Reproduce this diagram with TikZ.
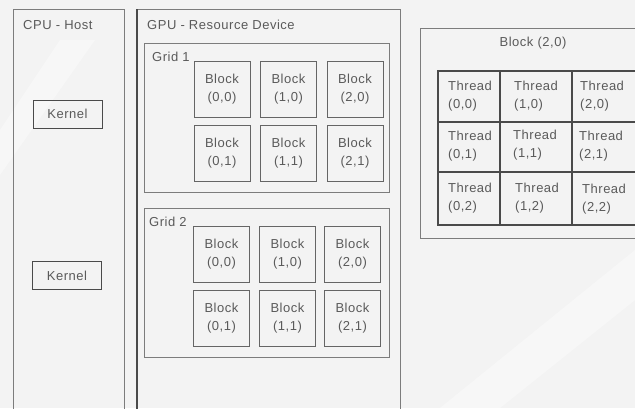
\documentclass[tikz,border=0pt]{standalone}
\usepackage{fontspec}
\setmainfont{Liberation Sans}[LetterSpace=4]
\definecolor{bg}{HTML}{F3F3F3}
\definecolor{txt}{HTML}{5A5A5A}
\definecolor{ln}{HTML}{7C7C7C}
\definecolor{dk}{HTML}{4A4A4A}
\tikzset{
  lbl/.style={text=txt, font=\fontsize{13}{18}\selectfont, inner sep=0pt, anchor=west},
  container/.style={draw=ln, line width=0.9pt},
  blockbox/.style={draw=dk!85, line width=0.9pt, minimum width=56pt, minimum height=56pt, inner sep=0pt,
     align=center, text=txt, font=\fontsize{13}{18}\selectfont},
  kernelbox/.style={draw=dk, line width=0.9pt, minimum width=69pt, minimum height=28pt, inner sep=0pt,
     text=txt, font=\fontsize{13}{18}\selectfont},
  cellbox/.style={draw=dk, line width=1.1pt, inner sep=0pt},
  celltext/.style={text=txt, font=\fontsize{13}{18}\selectfont, inner sep=0pt, anchor=west, align=left}
}
\begin{document}
\begin{tikzpicture}[x=1pt,y=-1pt]
\useasboundingbox (0,0) rectangle (635,408);
\clip (0,0) rectangle (635,408);
\fill[bg] (0,0) rectangle (635,408);
% faint watermark streaks
\fill[white, opacity=0.35] (0,130) -- (60,40) -- (95,40) -- (0,175) -- cycle;
\fill[white, opacity=0.35] (440,408) -- (635,250) -- (635,300) -- (500,408) -- cycle;

% CPU host
\draw[container] (13,420) -- (13,9) -- (124,9) -- (124,420);
\node[lbl] (cpu) at (23,25) {CPU - Host};
\node[kernelbox] (k1) at (67.5,114) {Kernel};
\node[kernelbox] (k2) at (67,275.5) {Kernel};

% GPU device
\draw[container] (137,420) -- (137,9) -- (400,9) -- (400,420);
\draw[dk, line width=1.1pt] (137,9) -- (137,420);
\node[lbl] (gpu) at (147,25) {GPU - Resource Device};

% Grid 1
\draw[container] (144,43) rectangle (389,192);
\node[lbl] (g1) at (152,57) {Grid 1};
\node[blockbox] (a00) at (222,89) {Block\\(0,0)};
\node[blockbox] (a10) at (288.5,89) {Block\\(1,0)};
\node[blockbox] (a20) at (355,89) {Block\\(2,0)};
\node[blockbox] (a01) at (222,153.5) {Block\\(0,1)};
\node[blockbox] (a11) at (288.5,153.5) {Block\\(1,1)};
\node[blockbox] (a21) at (355,153.5) {Block\\(2,1)};

% Grid 2
\draw[container] (144,208) rectangle (389,357);
\node[lbl] (g2) at (149,222) {Grid 2};
\node[blockbox] (b00) at (221.5,254) {Block\\(0,0)};
\node[blockbox] (b10) at (287.5,254) {Block\\(1,0)};
\node[blockbox] (b20) at (352.5,254) {Block\\(2,0)};
\node[blockbox] (b01) at (221.5,318.5) {Block\\(0,1)};
\node[blockbox] (b11) at (287.5,318.5) {Block\\(1,1)};
\node[blockbox] (b21) at (352.5,318.5) {Block\\(2,1)};

% Block (2,0) detail
\draw[container] (420,28) rectangle (660,238);
\node[text=txt, font=\fontsize{13}{18}\selectfont, inner sep=0pt] (bt) at (533,43) {Block (2,0)};

% thread cells
\node[cellbox, minimum width=62pt, minimum height=51pt] (c00) at (469,96.5) {};
\node[cellbox, minimum width=72pt, minimum height=51pt] (c10) at (536,96.5) {};
\node[cellbox, minimum width=64pt, minimum height=51pt] (c20) at (604,96.5) {};
\node[cellbox, minimum width=62pt, minimum height=50pt] (c01) at (469,147) {};
\node[cellbox, minimum width=72pt, minimum height=50pt] (c11) at (536,147) {};
\node[cellbox, minimum width=64pt, minimum height=50pt] (c21) at (604,147) {};
\node[cellbox, minimum width=62pt, minimum height=53pt] (c02) at (469,198.5) {};
\node[cellbox, minimum width=72pt, minimum height=53pt] (c12) at (536,198.5) {};
\node[cellbox, minimum width=64pt, minimum height=53pt] (c22) at (604,198.5) {};

\node[celltext] (t00) at (448,96.5) {Thread\\(0,0)};
\node[celltext] (t10) at (514,96.5) {Thread\\(1,0)};
\node[celltext] (t20) at (580,96.5) {Thread\\(2,0)};
\node[celltext] (t01) at (448,146) {Thread\\(0,1)};
\node[celltext] (t11) at (513,145) {Thread\\(1,1)};
\node[celltext] (t21) at (579,146) {Thread\\(2,1)};
\node[celltext] (t02) at (448,198.5) {Thread\\(0,2)};
\node[celltext] (t12) at (515,198.5) {Thread\\(1,2)};
\node[celltext] (t22) at (582,199.5) {Thread\\(2,2)};
\end{tikzpicture}
\end{document}
